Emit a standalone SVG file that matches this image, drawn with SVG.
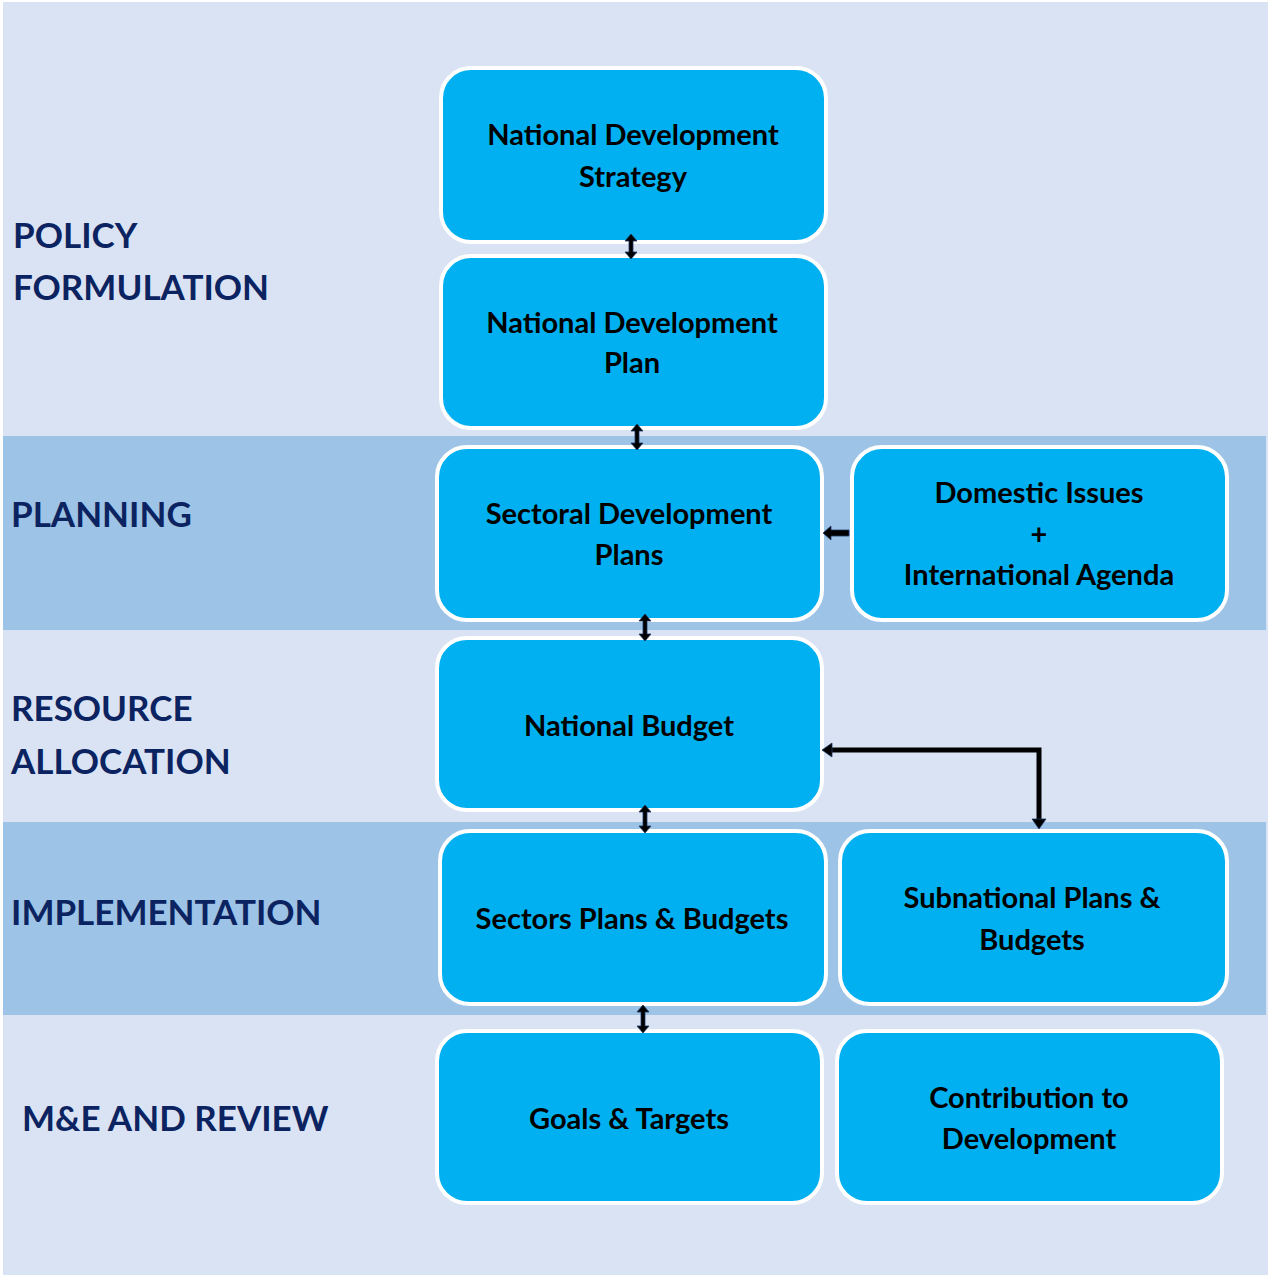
<svg xmlns="http://www.w3.org/2000/svg" width="1270" height="1277" viewBox="0 0 1270 1277">
  <defs>
    <style>
      .box { fill: #00b0f0; stroke: #ffffff; stroke-width: 4; }
      .txt { font-family: Lato, "Open Sans", "Liberation Sans", sans-serif; font-weight: bold; font-size: 29px; fill: #000000; text-anchor: middle; }
      .stage { font-family: Lato, "Open Sans", "Liberation Sans", sans-serif; font-weight: bold; font-size: 35px; fill: #0b2461; }
      .link { fill: none; stroke: #000000; stroke-width: 5; }
      .dbl { fill: #000000; stroke: #1f3864; stroke-width: 0.8; }
    </style>
  </defs>

  <!-- page background and horizontal stage bands -->
  <rect x="0" y="0" width="1270" height="1277" fill="#ffffff"/>
  <rect x="3" y="2" width="1265" height="1273" fill="#dae3f3"/>
  <rect x="3" y="436" width="1263" height="194" fill="#9dc3e6"/>
  <rect x="3" y="822" width="1263" height="193" fill="#9dc3e6"/>

  <!-- stage labels -->
  <g id="stage-labels">
    <text class="stage" x="13" y="248">POLICY</text>
    <text class="stage" x="13" y="300">FORMULATION</text>
    <text class="stage" x="11" y="527">PLANNING</text>
    <text class="stage" x="11" y="721">RESOURCE</text>
    <text class="stage" x="11" y="774">ALLOCATION</text>
    <text class="stage" x="11" y="925">IMPLEMENTATION</text>
    <text class="stage" x="22" y="1131">M&amp;E AND REVIEW</text>
  </g>

  <g id="national-development-strategy">
    <rect class="box" x="441" y="68" width="385" height="174" rx="30"/>
    <text class="txt" x="633" y="145">National Development</text>
    <text class="txt" x="633" y="187">Strategy</text>
  </g>

  <g id="national-development-plan">
    <rect class="box" x="441" y="256" width="385" height="172" rx="30"/>
    <text class="txt" x="632" y="333">National Development</text>
    <text class="txt" x="632" y="373">Plan</text>
  </g>

  <g id="sectoral-development-plans">
    <rect class="box" x="437" y="447" width="385" height="173" rx="30"/>
    <text class="txt" x="629" y="524">Sectoral Development</text>
    <text class="txt" x="629" y="565">Plans</text>
  </g>

  <g id="domestic-international">
    <rect class="box" x="852" y="447" width="375" height="173" rx="30"/>
    <text class="txt" x="1039" y="503">Domestic Issues</text>
    <text class="txt" x="1039" y="544">+</text>
    <text class="txt" x="1039" y="585">International Agenda</text>
  </g>

  <g id="national-budget">
    <rect class="box" x="437" y="638" width="385" height="172" rx="30"/>
    <text class="txt" x="629" y="736">National Budget</text>
  </g>

  <g id="sectors-plans-budgets">
    <rect class="box" x="440" y="831" width="386" height="173" rx="30"/>
    <text class="txt" x="632" y="929">Sectors Plans &amp; Budgets</text>
  </g>

  <g id="subnational-plans-budgets">
    <rect class="box" x="840" y="831" width="387" height="173" rx="30"/>
    <text class="txt" x="1032" y="908">Subnational Plans &amp;</text>
    <text class="txt" x="1032" y="950">Budgets</text>
  </g>

  <g id="goals-targets">
    <rect class="box" x="437" y="1031" width="385" height="172" rx="30"/>
    <text class="txt" x="629" y="1129">Goals &amp; Targets</text>
  </g>

  <g id="contribution-development">
    <rect class="box" x="837" y="1031" width="385" height="172" rx="30"/>
    <text class="txt" x="1029" y="1108">Contribution to</text>
    <text class="txt" x="1029" y="1149">Development</text>
  </g>

  <!-- connectors -->
  <g id="connectors">
    <!-- short two-way arrows between stacked boxes -->
    <path class="dbl" d="M631,234 L637,241 L633,241 L633,252 L637,252 L631,259 L625,252 L629,252 L629,241 L625,241 Z"/>
    <path class="dbl" d="M637,424 L643,431 L639,431 L639,443 L643,443 L637,450 L631,443 L635,443 L635,431 L631,431 Z"/>
    <path class="dbl" d="M645,614 L651,621 L647,621 L647,634 L651,634 L645,641 L639,634 L643,634 L643,621 L639,621 Z"/>
    <path class="dbl" d="M645,805 L651,812 L647,812 L647,826 L651,826 L645,833 L639,826 L643,826 L643,812 L639,812 Z"/>
    <path class="dbl" d="M643,1005 L649,1012 L645,1012 L645,1026 L649,1026 L643,1033 L637,1026 L641,1026 L641,1012 L637,1012 Z"/>
    <!-- agenda feeding sectoral plans -->
    <path class="dbl" d="M823,533 L831,526 L831,530 L849,530 L849,536 L831,536 L831,540 Z"/>
    <!-- budget to subnational plans, both directions -->
    <polyline class="link" points="829,750 1039,750 1039,821"/>
    <path class="dbl" d="M822,750 L832,743 L832,757 Z"/>
    <path class="dbl" d="M1039,829 L1032,819 L1046,819 Z"/>
  </g>
</svg>
